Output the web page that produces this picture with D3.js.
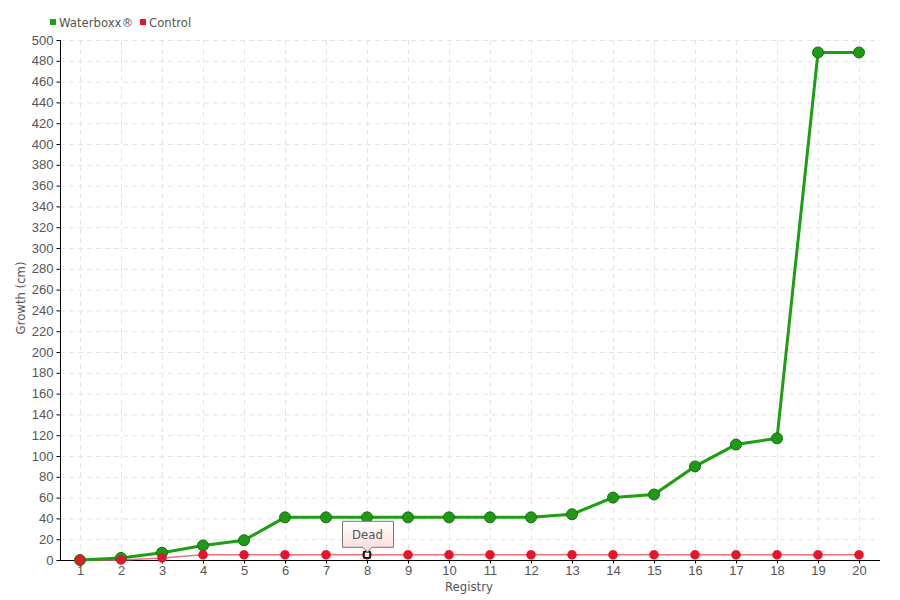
<!DOCTYPE html>
<html>
<head>
<meta charset="utf-8">
<script src="https://cdn.jsdelivr.net/npm/d3@7"></script>
<style>
  body { margin: 0; background: #fff; }
  svg { display: block; font-family: "DejaVu Sans Condensed", "Liberation Sans Narrow", sans-serif; font-stretch: condensed; }
</style>
</head>
<body>
<div id="chart"></div>
<script>
// --- data ---
const registry = d3.range(1, 21);
const waterboxx = [0, 2, 7, 14, 19, 41, 41, 41, 41, 41, 41, 41, 44, 60, 63, 90, 111, 117, 488, 488];
const control = [0, 0, 2, 5, 5, 5, 5, 5, 5, 5, 5, 5, 5, 5, 5, 5, 5, 5, 5, 5];
const yTicks = d3.range(0, 501, 20);
const deadIndex = 7; // registry 8

const width = 900, height = 600;
const margin = { top: 40, right: 20, bottom: 40, left: 60 };

const svg = d3.select('#chart').append('svg')
  .attr('width', width)
  .attr('height', height);

const x = d3.scalePoint()
  .domain(registry)
  .range([80, 859]);

const y = d3.scaleLinear()
  .domain([0, 500])
  .range([560, 40]);

const textColor = '#555';
const fontSize = '13px';

// grid
const grid = svg.append('g').attr('stroke', '#e4e4e4').attr('stroke-dasharray', '5,4');
grid.selectAll('.hg').data(yTicks.filter(d => d > 0)).join('line')
  .attr('x1', margin.left).attr('x2', width - margin.right)
  .attr('y1', d => y(d) + 0.5).attr('y2', d => y(d) + 0.5);
grid.selectAll('.vg').data(registry).join('line')
  .attr('x1', d => x(d) + 0.5).attr('x2', d => x(d) + 0.5)
  .attr('y1', y(500)).attr('y2', y(0));

// axes
const yAxis = svg.append('g')
  .attr('transform', `translate(${margin.left + 0.5},0)`)
  .call(d3.axisLeft(y).tickValues(yTicks).tickSize(4).tickPadding(3));
yAxis.select('.domain').attr('stroke', '#000').attr('d', `M-0,${y(500)}V${y(0)}`);
yAxis.selectAll('.tick line').attr('stroke', '#000');
yAxis.selectAll('.tick text').attr('fill', textColor).style('font-size', fontSize);

const xAxis = svg.append('g')
  .attr('transform', `translate(0,${y(0) + 0.5})`)
  .call(d3.axisBottom(x).tickSize(3).tickPadding(2));
xAxis.select('.domain').attr('stroke', '#000').attr('d', `M${margin.left},0H${width - margin.right}`);
xAxis.selectAll('.tick line').attr('stroke', '#000');
xAxis.selectAll('.tick text').attr('fill', textColor).style('font-size', fontSize);

// axis titles
svg.append('text')
  .attr('x', 469).attr('y', 591)
  .attr('text-anchor', 'middle')
  .attr('fill', textColor).style('font-size', fontSize)
  .text('Registry');

svg.append('text')
  .attr('transform', `translate(25,${y(252)}) rotate(-90)`)
  .attr('text-anchor', 'middle')
  .attr('fill', textColor).style('font-size', fontSize)
  .text('Growth (cm)');

// lines
const line = d3.line()
  .x((d, i) => x(registry[i]))
  .y(d => y(d));

svg.append('path')
  .datum(control)
  .attr('fill', 'none')
  .attr('stroke', '#f07080')
  .attr('stroke-width', 1.5)
  .attr('d', line);

svg.append('path')
  .datum(waterboxx)
  .attr('fill', 'none')
  .attr('stroke', '#1e9e12')
  .attr('stroke-width', 3)
  .attr('d', line);

// markers
svg.append('g').selectAll('circle').data(waterboxx).join('circle')
  .attr('cx', (d, i) => x(registry[i]))
  .attr('cy', d => y(d))
  .attr('r', 5.5)
  .attr('fill', '#1e9a14')
  .attr('stroke', '#17700f')
  .attr('stroke-width', 1);

svg.append('g').selectAll('circle').data(control).join('circle')
  .attr('cx', (d, i) => x(registry[i]))
  .attr('cy', d => y(d))
  .attr('r', 4.5)
  .attr('fill', '#e8142c')
  .attr('stroke', '#d01028')
  .attr('stroke-width', 0.5);

// "Dead" marker + tooltip
const dx = x(registry[deadIndex]);
const dy = y(control[deadIndex]);
svg.append('rect')
  .attr('x', dx - 3).attr('y', dy - 3)
  .attr('width', 6).attr('height', 6)
  .attr('fill', '#fff').attr('stroke', '#000').attr('stroke-width', 1.5);

const grad = svg.append('defs').append('linearGradient')
  .attr('id', 'tipgrad').attr('x1', 0).attr('y1', 0).attr('x2', 0).attr('y2', 1);
grad.append('stop').attr('offset', '0%').attr('stop-color', '#ffffff');
grad.append('stop').attr('offset', '100%').attr('stop-color', '#fcd8d8');

const bx = dx - 25, by = dy - 34, bw = 51, bh = 26;
svg.append('path')
  .attr('d', `M${bx + 0.5},${by + 0.5}H${bx + bw + 0.5}V${by + bh + 0.5}H${dx + 5}L${dx + 0.5},${by + bh + 5.5}L${dx - 4},${by + bh + 0.5}H${bx + 0.5}Z`)
  .attr('fill', 'url(#tipgrad)')
  .attr('stroke', '#777')
  .attr('stroke-width', 1);
svg.append('text')
  .attr('x', dx + 0.5).attr('y', by + 18)
  .attr('text-anchor', 'middle')
  .attr('fill', textColor).style('font-size', fontSize)
  .text('Dead');

// legend
const legend = [
  { name: 'Waterboxx®', color: '#1e9e12', x: 50 },
  { name: 'Control', color: '#e8142c', x: 140 }
];
const lg = svg.append('g').selectAll('g').data(legend).join('g')
  .attr('transform', d => `translate(${d.x},22)`);
lg.append('rect').attr('x', 0).attr('y', -3).attr('width', 6).attr('height', 6).attr('fill', d => d.color);
lg.append('text').attr('x', 9).attr('y', 5)
  .attr('fill', textColor).style('font-size', fontSize)
  .text(d => d.name);
</script>
</body>
</html>
